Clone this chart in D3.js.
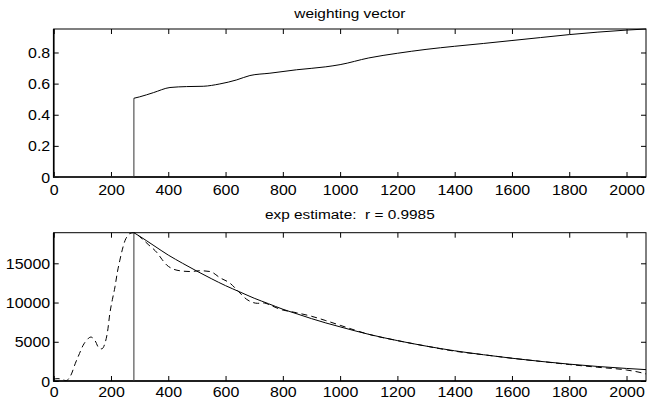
<!DOCTYPE html>
<html>
<head>
<meta charset="utf-8">
<script src="https://cdn.jsdelivr.net/npm/d3@7"></script>
<style>
  html, body { margin: 0; padding: 0; background: #fff; }
  svg { display: block; }
  text { font-family: "Liberation Sans", Arial, Helvetica, sans-serif; fill: #000; white-space: pre; }
</style>
</head>
<body>
<svg id="chart" width="647" height="400"></svg>
<script>
// ---------- data ----------
const titleTop = "weighting vector";
const titleBottom = "exp estimate:  r = 0.9985";

const xTicks = [0, 200, 400, 600, 800, 1000, 1200, 1400, 1600, 1800, 2000];
const yTicksTop = [0, 0.2, 0.4, 0.6, 0.8];
const yTicksBottom = [0, 5000, 10000, 15000];

// weighting vector: zero before onset, step at onset, then gradual rise
const onsetX = 280;
const weightX = [280, 300, 348, 406, 464, 522, 580, 639, 685, 755, 848, 950, 1000, 1100, 1200, 1300, 1400, 1500, 1600, 1700, 1800, 1900, 2000, 2068];
const weightY = [0.506, 0.515, 0.542, 0.575, 0.581, 0.583, 0.598, 0.624, 0.652, 0.667, 0.689, 0.708, 0.722, 0.765, 0.795, 0.820, 0.840, 0.858, 0.877, 0.896, 0.915, 0.931, 0.944, 0.951];

// exponential estimate (solid)
const expX = [280, 300, 350, 400, 450, 500, 550, 600, 650, 700, 750, 800, 850, 900, 950, 1000, 1100, 1200, 1300, 1400, 1500, 1600, 1700, 1800, 1900, 2000, 2068];
const expY = [18900, 18450, 17250, 16050, 15000, 14000, 13050, 12150, 11350, 10550, 9850, 9150, 8550, 7950, 7400, 6900, 5950, 5150, 4450, 3850, 3350, 2900, 2500, 2150, 1850, 1600, 1450];

// measured signal (dashed)
const sigX = [0, 15, 30, 42, 52, 62, 75, 90, 102, 115, 130, 145, 158, 168, 178, 188, 196, 205, 214, 222, 231, 240, 249, 258, 266, 280, 300, 330, 362, 378, 394, 412, 441, 476, 511, 546, 581, 616, 644, 674, 692, 712, 732, 760, 790, 848, 900, 950, 1000, 1050, 1100, 1200, 1300, 1400, 1500, 1600, 1700, 1800, 1900, 2000, 2040, 2068];
const sigY = [250, 300, 200, 50, 250, 900, 2200, 3500, 4500, 5200, 5600, 5100, 4200, 4100, 4700, 6300, 8600, 10400, 12000, 13800, 15400, 16800, 17900, 18500, 18800, 18900, 18400, 17400, 16300, 15500, 14800, 14350, 14050, 13950, 14050, 13950, 13150, 12450, 11450, 10400, 10050, 9900, 9950, 9600, 9150, 8700, 8250, 7700, 7100, 6500, 5950, 5150, 4450, 3800, 3350, 2900, 2500, 2100, 1750, 1400, 1150, 900];

// ---------- layout ----------
const svg = d3.select("#chart");
const X0 = 53.7, X1 = 646;
const top1 = 29, bot1 = 177;
const top2 = 232.7, bot2 = 381;
const SX = 1.14;   // horizontal text stretch
const FS = 14;

const x1 = d3.scaleLinear().domain([0, 2068]).range([X0, X1]);
const yA = d3.scaleLinear().domain([0, 0.951]).range([bot1, top1]);
const yB = d3.scaleLinear().domain([0, 18900]).range([bot2, top2]);

function drawFrame(y, yTicks, top, bot, yFmt, labelOff) {
  const g = svg.append("g");
  const tl = 5;
  // bottom axis
  const ax = g.append("g").attr("transform", `translate(0,${bot})`)
    .call(d3.axisBottom(x1).tickValues(xTicks).tickSizeInner(-tl).tickSizeOuter(0).tickFormat(d3.format("d")));
  ax.select(".domain").remove();
  ax.selectAll("line").attr("stroke", "#000");
  ax.selectAll("text").attr("y", labelOff).attr("dy", 0).attr("x", 0)
    .attr("font-size", FS).attr("transform", `scale(${SX},1)`);
  // top ticks
  const axT = g.append("g").attr("transform", `translate(0,${top})`)
    .call(d3.axisTop(x1).tickValues(xTicks).tickSizeInner(-tl).tickSizeOuter(0).tickFormat(""));
  axT.select(".domain").remove();
  axT.selectAll("line").attr("stroke", "#000");
  // left axis
  const ay = g.append("g").attr("transform", `translate(${X0},0)`)
    .call(d3.axisLeft(y).tickValues(yTicks).tickSizeInner(-tl).tickSizeOuter(0).tickFormat(yFmt));
  ay.select(".domain").remove();
  ay.selectAll("line").attr("stroke", "#000");
  ay.selectAll("text").attr("x", -3.5 / SX).attr("dy", "0.36em")
    .attr("font-size", FS).attr("transform", `scale(${SX},1)`);
  // right ticks
  const ayR = g.append("g").attr("transform", `translate(${X1},0)`)
    .call(d3.axisRight(y).tickValues(yTicks).tickSizeInner(-tl).tickSizeOuter(0).tickFormat(""));
  ayR.select(".domain").remove();
  ayR.selectAll("line").attr("stroke", "#000");
  // box
  g.append("rect").attr("x", X0).attr("y", top).attr("width", X1 - X0).attr("height", bot - top)
    .attr("fill", "none").attr("stroke", "#000").attr("stroke-width", 1);
  g.append("line").attr("x1", X0).attr("x2", X0).attr("y1", top).attr("y2", bot + 0.5)
    .attr("stroke", "#000").attr("stroke-width", 1.6);
  g.append("line").attr("x1", X0 - 0.5).attr("x2", X1).attr("y1", bot).attr("y2", bot)
    .attr("stroke", "#000").attr("stroke-width", 1.6);
}

function fmtTop(d) { return d === 0 ? "0" : d3.format(".1f")(d); }
drawFrame(yA, yTicksTop, top1, bot1, fmtTop, 18);
drawFrame(yB, yTicksBottom, top2, bot2, d3.format("d"), 16);

// titles
svg.append("text").attr("transform", `translate(${(X0 + X1) / 2},18) scale(${SX},1)`)
  .attr("text-anchor", "middle").attr("font-size", 13.5).attr("xml:space", "preserve").text(titleTop);
svg.append("text").attr("transform", `translate(${(X0 + X1) / 2},219) scale(${SX},1)`)
  .attr("text-anchor", "middle").attr("font-size", 13.5).attr("xml:space", "preserve").text(titleBottom);

// ---------- lines ----------
const lineLin = (y) => d3.line().x(d => x1(d[0])).y(d => y(d[1]));
const lineSmooth = (y) => d3.line().x(d => x1(d[0])).y(d => y(d[1])).curve(d3.curveMonotoneX);

// top: step part
svg.append("path").attr("d", lineLin(yA)([[0, 0], [onsetX, 0], [onsetX, weightY[0]]]))
  .attr("fill", "none").attr("stroke", "#333").attr("stroke-width", 1);
svg.append("path").attr("d", lineSmooth(yA)(weightX.map((v, i) => [v, weightY[i]])))
  .attr("fill", "none").attr("stroke", "#000").attr("stroke-width", 1);

// bottom: dashed signal
svg.append("path").attr("d", lineSmooth(yB)(sigX.map((v, i) => [v, sigY[i]])))
  .attr("fill", "none").attr("stroke", "#000").attr("stroke-width", 1)
  .attr("stroke-dasharray", "6,4");
// bottom: solid estimate with vertical onset
svg.append("path").attr("d", lineLin(yB)([[onsetX, 0], [onsetX, expY[0]]]))
  .attr("fill", "none").attr("stroke", "#333").attr("stroke-width", 1);
svg.append("path").attr("d", lineSmooth(yB)(expX.map((v, i) => [v, expY[i]])))
  .attr("fill", "none").attr("stroke", "#000").attr("stroke-width", 1);
</script>
</body>
</html>
